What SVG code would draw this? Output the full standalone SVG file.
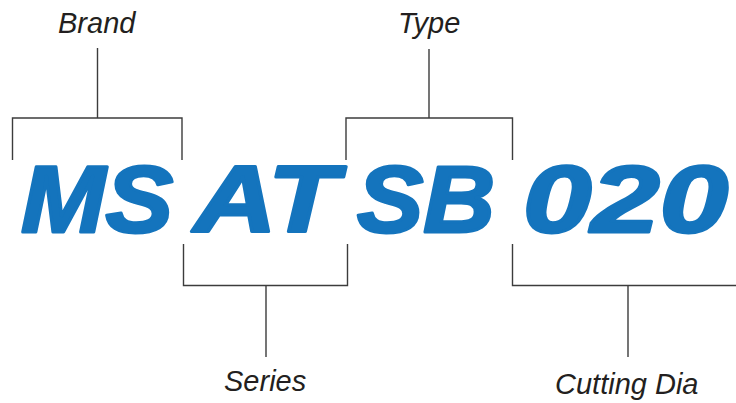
<svg xmlns="http://www.w3.org/2000/svg" width="736" height="403" viewBox="0 0 736 403">
<style>
.lbl{font-family:"Liberation Sans",Arial,sans-serif;font-style:italic;font-size:29px;fill:#231f20}
.code{font-family:"Liberation Sans",Arial,sans-serif;font-style:italic;font-weight:bold;font-size:94px;fill:#1474bd;stroke:#1474bd;stroke-width:3;stroke-linejoin:round}
.ln{fill:none;stroke:#3c3c3c;stroke-width:1.4}
</style>
<rect width="736" height="403" fill="#ffffff"/>
<g id="connectors">
<path class="ln" d="M12.5,160 V118 H182 V160 M97.5,118 V48"/>
<path class="ln" d="M346,160 V118 H512.5 V160 M429,118 V49"/>
<path class="ln" d="M183.5,244 V285.5 H347.5 V244 M266,285.5 V357"/>
<path class="ln" d="M512.5,244 V285.5 H736 M628,285.5 V357"/>
</g>
<g id="brand"><text class="lbl" x="58" y="33">Brand</text><text class="code" x="21" y="232" textLength="152" lengthAdjust="spacingAndGlyphs">MS</text></g>
<g id="series"><text class="lbl" x="224" y="391">Series</text><text class="code" x="194" y="232" textLength="144" lengthAdjust="spacingAndGlyphs">AT</text></g>
<g id="type"><text class="lbl" x="398" y="33">Type</text><text class="code" x="357" y="232" textLength="138" lengthAdjust="spacingAndGlyphs">SB</text></g>
<g id="cutting-dia"><text class="lbl" x="555" y="394">Cutting Dia</text><text class="code" x="523" y="232" textLength="205" lengthAdjust="spacingAndGlyphs">020</text></g>
</svg>
